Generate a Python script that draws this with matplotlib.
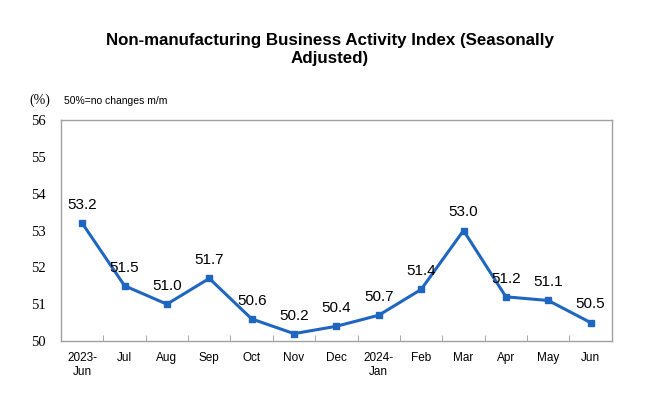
import matplotlib.pyplot as plt

months = ["2023-\nJun", "Jul", "Aug", "Sep", "Oct", "Nov", "Dec", "2024-\nJan",
          "Feb", "Mar", "Apr", "May", "Jun"]
index_vals = [53.2, 51.5, 51.0, 51.7, 50.6, 50.2, 50.4, 50.7, 51.4, 53.0, 51.2, 51.1, 50.5]
y_ticks = [50, 51, 52, 53, 54, 55, 56]

color = "#1f66c0"

fig = plt.figure(figsize=(6.6, 3.93), dpi=100)
ax = fig.add_axes([0.0924, 0.1323, 0.8346, 0.5623])

x = list(range(len(months)))
ax.plot(x, index_vals, color=color, linewidth=2.2, marker="s", markersize=4.5)
for xi, v in zip(x, index_vals):
    ax.annotate(f"{v:.1f}", (xi, v), xytext=(0, 8), textcoords="offset points",
                ha="center", va="bottom", fontsize=11, family="Liberation Sans")

ax.set_xlim(-0.5, len(months) - 0.5)
ax.set_ylim(50, 56)
ax.set_yticks(y_ticks)
ax.set_yticklabels([str(t) for t in y_ticks], family="Liberation Serif", fontsize=10.5)
ax.set_xticks(x)
ax.set_xticklabels(months, family="Liberation Sans", fontsize=8.5)
ax.set_xticks([i + 0.5 for i in x[:-1]], minor=True)
ax.tick_params(axis="x", which="major", length=0, pad=8)
ax.tick_params(axis="x", which="minor", length=4, direction="in", color="#999999")
ax.tick_params(axis="y", length=0, pad=11)
for s in ax.spines.values():
    s.set_color("#a0a0a0")
    s.set_linewidth(1)

fig.text(0.5, 0.875, "Non-manufacturing Business Activity Index (Seasonally\nAdjusted)",
         ha="center", va="center", fontsize=12.2, fontweight="bold",
         family="Liberation Sans", linespacing=1.25)
fig.text(0.045, 0.745, "(%)", fontsize=10, family="Liberation Serif", va="center")
fig.text(0.097, 0.742, "50%=no changes m/m", fontsize=7.5, family="Liberation Sans", va="center")

fig.savefig("out.png", dpi=100)
